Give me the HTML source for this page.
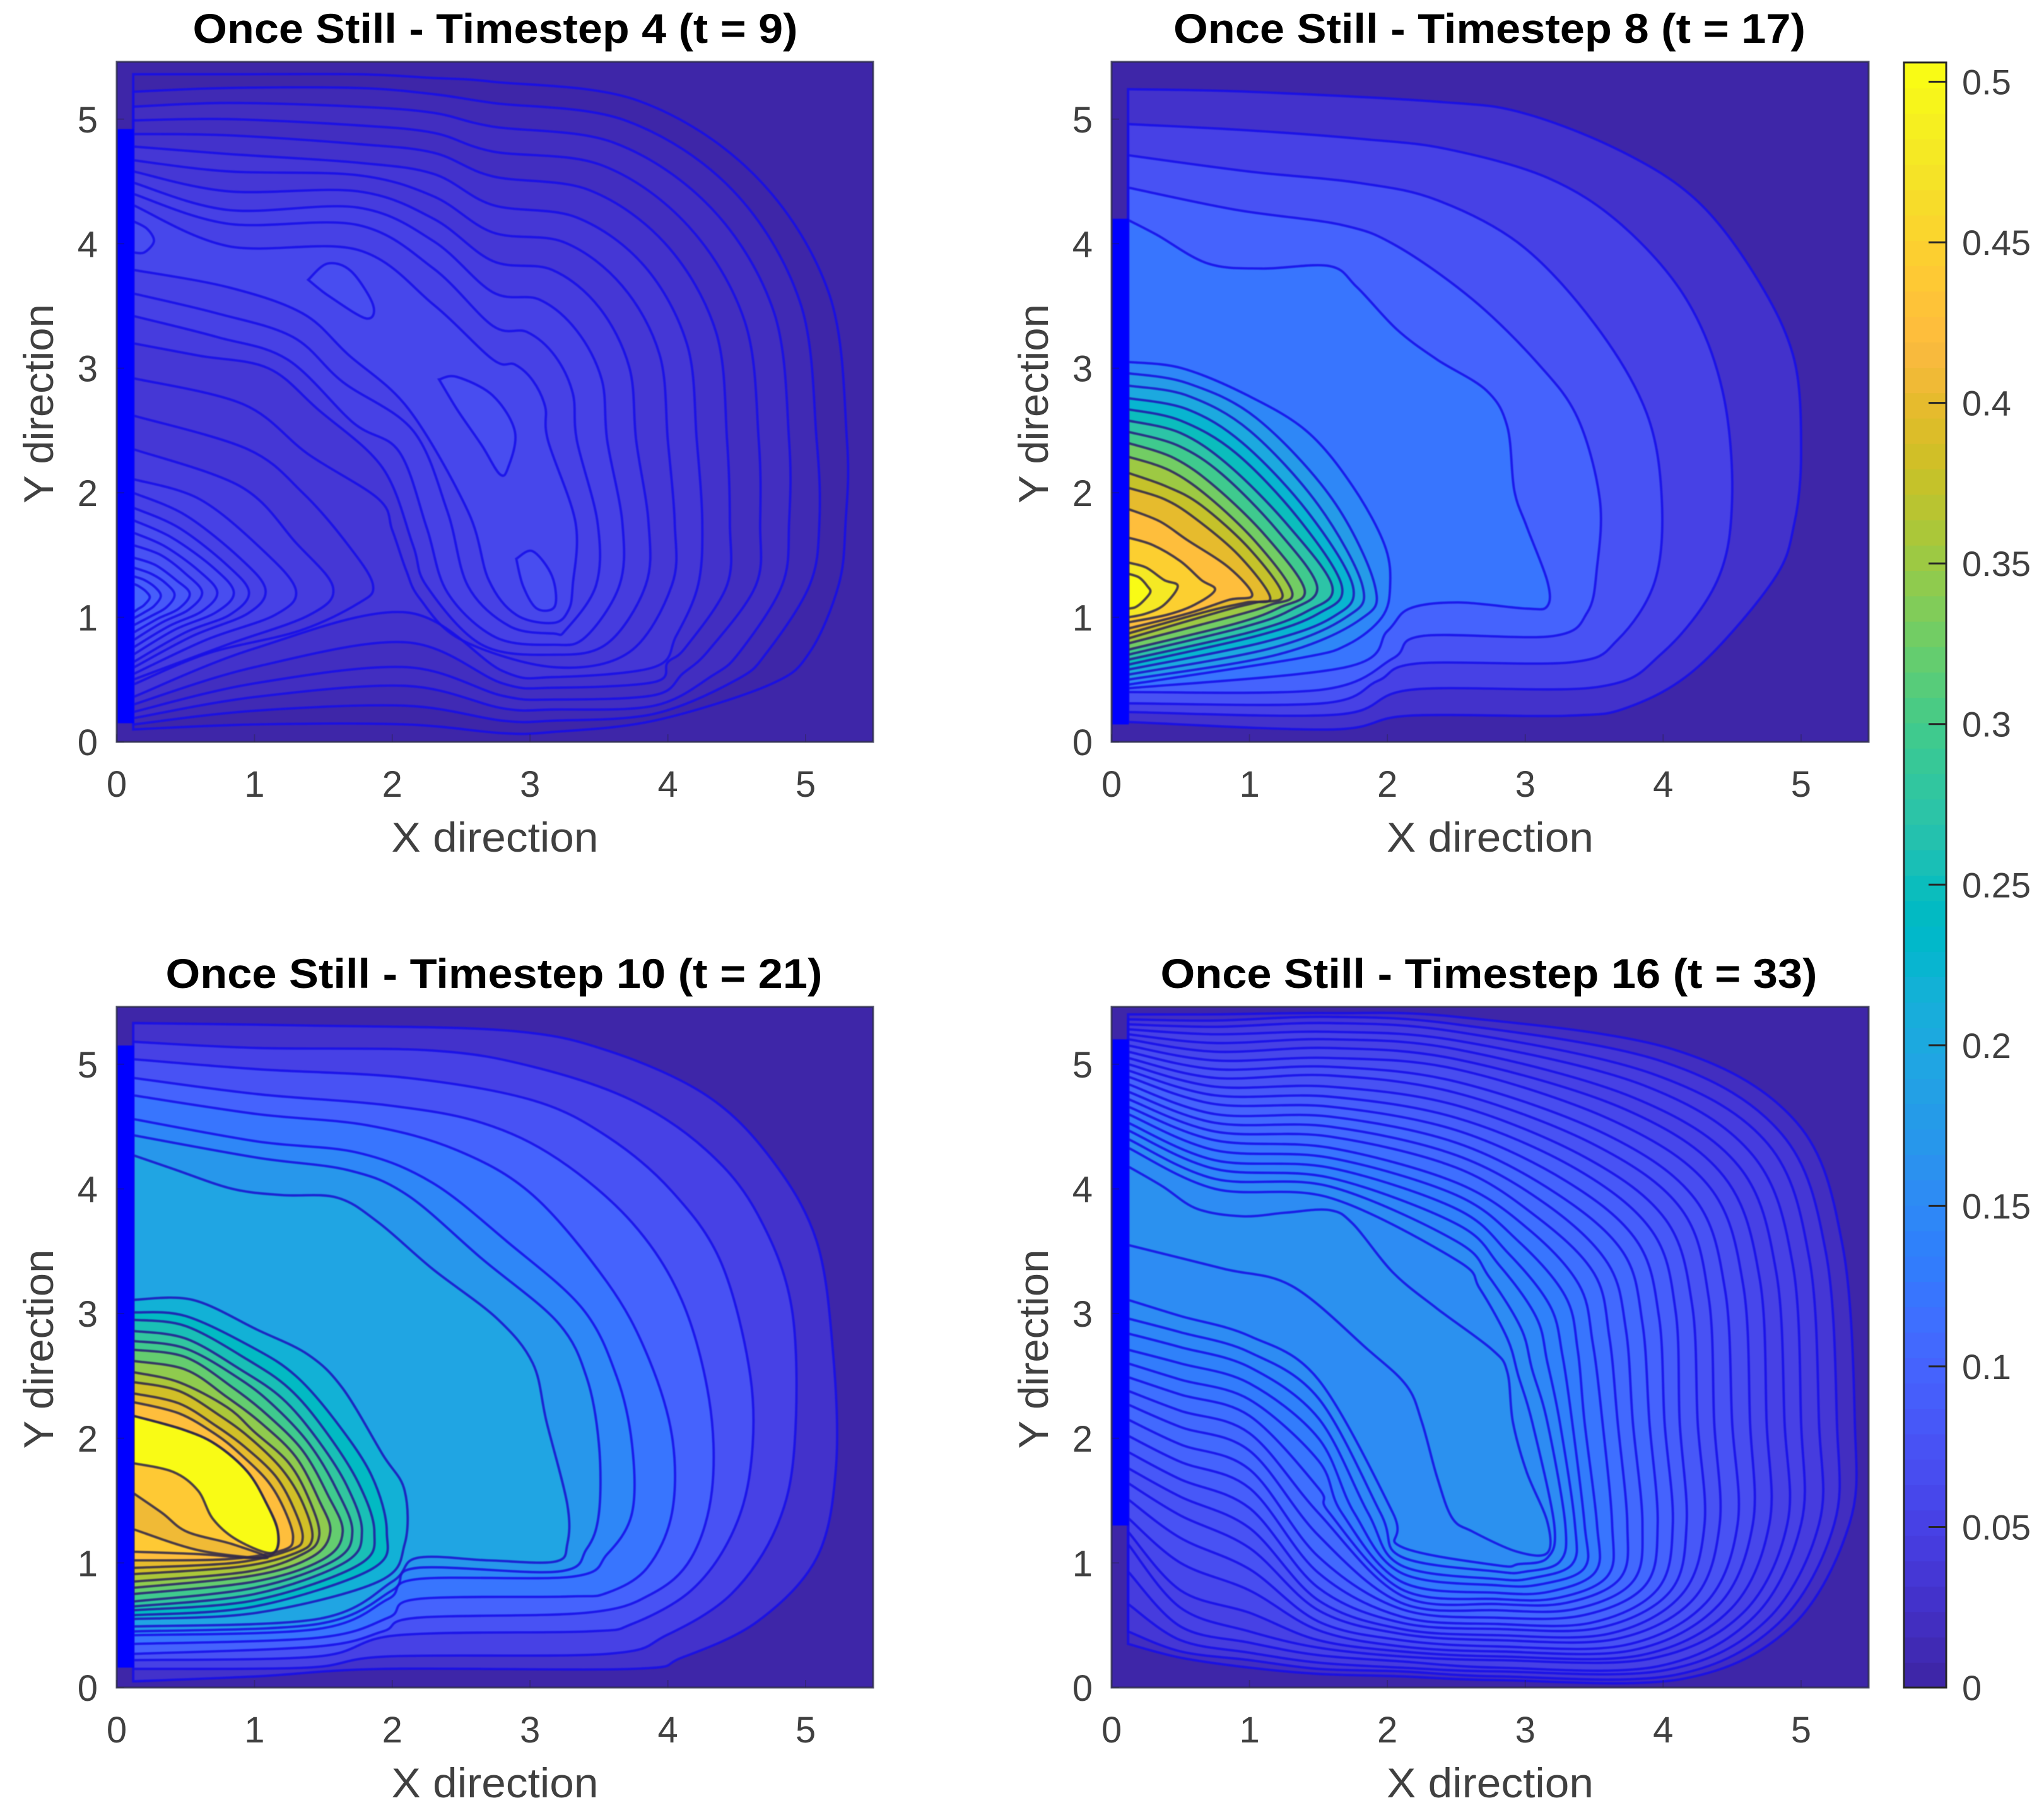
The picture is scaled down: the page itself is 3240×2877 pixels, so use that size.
<!DOCTYPE html>
<html lang="en">
<head>
<meta charset="utf-8">
<title>Once Still contour panels</title>
<style>
html,body{margin:0;padding:0;background:#fff;}
svg{display:block;}
text{font-family:"Liberation Sans",sans-serif;}
</style>
</head>
<body>
<svg id="chart" xmlns="http://www.w3.org/2000/svg" width="3240" height="2877" viewBox="0 0 3240 2877">
<rect x="0" y="0" width="3240" height="2877" fill="#ffffff"/>
<defs id="defs"></defs>
</svg>
<script>
const _ = null;
const xTicks = [0,1,2,3,4,5];
const yTicks = [0,1,2,3,4,5];
const xLimit = 5.49;
const yLimit = 5.46;
const colorbarMax = 0.506;
const colorbarTicks = [0,0.05,0.1,0.15,0.2,0.25,0.3,0.35,0.4,0.45,0.5];
const colorbarLabels = ["0","0.05","0.1","0.15","0.2","0.25","0.3","0.35","0.4","0.45","0.5"];
const panelTitles = ["Once Still - Timestep 4 (t = 9)","Once Still - Timestep 8 (t = 17)","Once Still - Timestep 10 (t = 21)","Once Still - Timestep 16 (t = 33)"];
const steepEdgeRanges = [[0.15,4.92],[0.14,4.2],[0.16,5.15],[1.3,5.2]];

/* ---------- Panel 1: contour stations, one value per contour ---------- */
const p1FamilyLevels = [.006,.011,.017,.022,.028,.033,.039,.044,.05,.055,.061];
const p1Stations = [
 [.12,[5.36,5.22,5.1,4.99,4.88,4.78,4.67,4.58,4.49,4.4,4.31]],
 [.81,[5.36,5.25,5.13,5.0,4.87,4.72,4.58,4.42,4.27,4.16,3.98]],
 [1.75,[5.36,5.25,5.1,4.95,4.8,4.65,4.55,4.42,4.29,4.15,3.95]],
 [2.3,[5.33,5.2,5.05,4.89,4.73,4.56,4.38,4.2,4.02,3.8,3.51]],
 [2.73,[5.3,5.13,4.94,4.74,4.54,4.31,4.09,3.86,3.61,3.34,3.07]],
 [[3.78,3.69,3.61,3.52,3.43,3.34,3.25,3.16,3.07,2.98,2.89],[5.15,4.99,4.81,4.63,4.43,4.21,4.01,3.79,3.55,3.29,3.03]],
 [[4.63,4.47,4.32,4.15,3.99,3.83,3.67,3.5,3.34,3.18,3.02],[4.55,4.43,4.28,4.14,3.99,3.82,3.66,3.49,3.3,3.1,2.9]],
 [[5.17,4.96,4.77,4.56,4.35,4.14,3.94,3.72,3.52,3.31,3.11],[3.6,3.53,3.45,3.37,3.29,3.19,3.11,3.01,2.91,2.8,2.69]],
 [[5.3,5.08,4.88,4.66,4.43,4.21,4.0,3.77,3.56,3.34,3.13],2.42],
 [[5.29,5.1,4.88,4.67,4.45,4.25,4.05,3.86,3.67,3.49,3.33],1.76],
 [[5.24,5.03,4.83,4.64,4.43,4.22,4.03,3.84,3.65,3.48,3.31],1.26],
 [[5.03,4.72,4.52,4.3,4.13,4.06,3.72,3.56,3.4,3.26,3.28],[.72,.72,.72,.74,.76,.85,.72,.79,.84,.9,1.06]],
 [[4.74,4.5,4.32,4.11,4.0,_,_,_,_,_,_],[.46,.5,.53,.55,.64,_,_,_,_,_,_]],
 [3.9,[.17,.225,.29,.375,.48,.6,_,_,_,_,_]],
 [3.17,[.08,.17,.26,.34,.435,.52,.6,.7,.78,.87,.955]],
 [2.8,[.07,.17,.27,.37,.47,.57,_,_,_,_,_]],
 [2.1,[.14,.29,.45,.6,.8,1.04,_,_,_,_,_]],
 [1,[.14,.25,.36,.47,.6,.75,_,_,_,_,_]],
 [[_,_,_,_,_,_,2.5,2.65,2.75,2.85,2.9],[_,_,_,_,_,_,.82,.78,.84,.93,1.02]],
 [[_,_,_,_,_,_,2.2,2.25,2.4,2.55,2.7],[_,_,_,_,_,_,1.15,1.25,1.2,1.25,1.3]],
 [[_,_,_,_,_,_,2.1,2.15,2.25,2.4,2.55],[_,_,_,_,_,_,1.38,1.58,1.72,1.85,1.85]],
 [[_,_,_,_,_,_,2.0,1.93,2.05,2.15,2.12],[_,_,_,_,_,_,1.7,2.2,2.33,2.5,2.67]],
 [[_,_,_,_,_,_,1.9,1.46,1.72,1.64,1.68],[_,_,_,_,_,_,1.95,2.67,2.56,2.89,3.11]],
 [[_,_,_,_,_,_,1.39,1.1,1.24,1.28,1.35],[_,_,_,_,_,_,2.31,3.0,3.07,3.25,3.44]],
 [[_,_,_,_,_,_,.92,.6,.73,.73,.81],[_,_,_,_,_,_,2.71,3.1,3.25,3.44,3.65]],
 [.12,[.10,.14,.19,.24,.3,.36,2.92,3.2,3.42,3.6,3.79]]
];
const p1PeakLoops = [
 [.039,.12,2.62,.95,2.35,1.35,2.0,1.68,1.58,1.86,1.26,1.75,1.11,1.32,.89,.66,.71,.12,.46],
 [.044,.12,2.35,.9,2.05,1.3,1.6,1.57,1.24,1.4,1.02,.8,.78,.12,.5],
 [.05,.12,2.11,.6,1.95,1.05,1.55,1.3,1.22,1.15,1.02,.65,.82,.12,.544],
 [.055,.12,2.0,.5,1.82,.9,1.47,1.08,1.22,.95,1.03,.55,.85,.12,.595],
 [.061,.12,1.88,.45,1.72,.8,1.42,.96,1.2,.82,1.02,.5,.88,.12,.64],
 [.066,.12,1.78,.4,1.64,.7,1.4,.85,1.2,.72,1.04,.42,.9,.12,.7],
 [.071,.12,1.68,.35,1.57,.6,1.37,.73,1.2,.62,1.05,.38,.93,.12,.757],
 [.076,.12,1.58,.32,1.5,.5,1.35,.62,1.2,.52,1.06,.33,.96,.12,.816],
 [.081,.12,1.48,.28,1.42,.43,1.3,.53,1.19,.45,1.07,.3,.99,.12,.876],
 [.086,.12,1.4,.25,1.35,.36,1.27,.42,1.18,.36,1.08,.25,1.01,.12,.935],
 [.091,.12,1.33,.2,1.3,.28,1.24,.32,1.17,.27,1.09,.2,1.04,.12,.99],
 [.096,.12,1.27,.16,1.25,.21,1.21,.24,1.16,.2,1.1,.16,1.07,.12,1.04]
];
const p1Islands = [
 [.067,.12,4.18,.22,4.12,.27,4.02,.2,3.93,.12,3.93],
 [.067,1.39,3.71,1.53,3.84,1.7,3.78,1.86,3.51,1.81,3.4,1.54,3.58,1.39,3.71],
 [.067,2.34,2.91,2.47,2.93,2.73,2.78,2.89,2.49,2.84,2.2,2.78,2.15,2.65,2.38,2.47,2.67,2.34,2.91],
 [.067,2.9,1.47,3.02,1.53,3.16,1.33,3.18,1.09,3.05,1.07,2.95,1.25,2.9,1.47]
];

/* ---------- Panel 2: level, then x,y pairs ---------- */
const p2Loops = [
 [.025,.12,5.24,.99,5.22,2.36,5.14,2.98,5.05,3.7,4.74,4.25,4.34,4.68,3.72,4.95,3.07,5.0,2.31,4.95,1.75,4.8,1.3,4.25,.6,3.75,.28,3.3,.21,2.15,.21,1.6,.1,.12,.16],
 [.05,.12,4.96,.99,4.91,1.82,4.84,2.43,4.76,3.16,4.53,3.7,4.15,4.17,3.55,4.43,2.82,4.5,1.95,4.39,1.29,3.99,.71,3.52,.44,2.18,.42,1.64,.22,.12,.24],
 [.075,.12,4.71,.99,4.58,1.78,4.49,2.36,4.35,2.98,3.98,3.52,3.33,3.88,2.64,3.99,1.95,3.94,1.29,3.67,.82,3.34,.64,2.22,.63,1.93,.49,1.53,.31,.12,.31],
 [.1,.12,4.45,.91,4.27,1.67,4.15,2.07,3.98,2.62,3.55,3.09,3.04,3.38,2.6,3.54,1.95,3.52,1.4,3.45,1.04,3.2,.85,2.25,.85,2.04,.67,1.53,.42,.12,.4],
 [.125,.12,4.19,.33,4.07,.7,3.84,1.09,3.8,1.58,3.82,1.78,3.65,2.07,3.31,2.36,3.07,2.72,2.82,2.87,2.53,2.92,2.02,3.01,1.73,3.16,1.29,3.16,1.09,3.01,1.07,2.51,1.12,2.16,1.07,2.0,.89,1.7,.6,.12,.43],
 [.15,.12,3.05,.51,3.0,.99,2.78,1.42,2.49,1.75,2.05,1.98,1.58,2.02,1.25,1.96,1.0,1.71,.78,1.35,.67,.12,.46],
 [.175,.12,2.96,.55,2.88,1.05,2.6,1.6,1.95,1.91,1.25,1.8,.98,1.2,.7,.12,.5],
 [.2,.12,2.86,.55,2.78,1.0,2.5,1.5,1.9,1.82,1.25,1.7,1.0,1.15,.75,.12,.54],
 [.225,.12,2.76,.55,2.67,.95,2.4,1.42,1.85,1.75,1.25,1.6,1.0,1.1,.8,.12,.58],
 [.25,.12,2.67,.5,2.58,.9,2.32,1.35,1.8,1.67,1.25,1.5,1.03,1.05,.85,.12,.62],
 [.275,.12,2.58,.5,2.48,.85,2.22,1.27,1.75,1.6,1.25,1.42,1.05,1.0,.88,.12,.66],
 [.3,.12,2.49,.48,2.38,.8,2.15,1.2,1.7,1.49,1.25,1.3,1.06,.95,.92,.12,.7],
 [.325,.12,2.4,.45,2.28,.75,2.05,1.12,1.65,1.4,1.22,1.22,1.08,.9,.95,.12,.74],
 [.35,.12,2.29,.42,2.18,.7,1.97,1.05,1.6,1.31,1.2,1.15,1.1,.85,1.0,.12,.79],
 [.375,.12,2.16,.4,2.05,.65,1.9,1.0,1.55,1.24,1.18,1.05,1.12,.8,1.05,.12,.83],
 [.4,.12,2.04,.38,1.95,.6,1.8,.92,1.5,1.15,1.16,.98,1.12,.7,1.05,.12,.87],
 [.425,.12,1.87,.35,1.77,.55,1.62,.85,1.4,1.02,1.18,.85,1.14,.55,1.03,.12,.91],
 [.45,.12,1.64,.3,1.58,.5,1.45,.65,1.3,.75,1.22,.6,1.1,.4,1.02,.12,.96],
 [.475,.12,1.44,.25,1.4,.38,1.3,.48,1.25,.38,1.1,.25,1.03,.12,1.0],
 [.5,.12,1.35,.2,1.32,.26,1.25,.28,1.2,.22,1.12,.17,1.08,.12,1.07]
];

/* ---------- Panel 3: level, then x,y pairs ---------- */
const p3Loops = [
 [.025,.12,5.33,1.39,5.31,2.83,5.27,3.56,5.11,4.28,4.75,4.75,4.24,5.08,3.58,5.2,2.67,5.22,1.76,5.08,1.04,4.65,.53,4.1,.24,3.74,.15,1.93,.15,1.02,.09,.12,.05],
 [.05,.12,5.18,1.02,5.13,2.29,5.11,3.02,4.98,3.74,4.71,4.28,4.31,4.65,3.8,4.9,3.04,4.92,1.95,4.79,1.29,4.46,.75,3.99,.42,3.56,.27,1.97,.25,1.38,.16,.12,.15],
 [.074,.12,5.04,1.02,4.96,2.11,4.89,3.02,4.71,3.56,4.42,4.03,3.98,4.39,3.4,4.6,2.49,4.6,1.76,4.46,1.22,4.17,.78,3.74,.51,3.41,.45,2.04,.42,1.46,.25,.12,.22],
 [.098,.12,4.89,1.02,4.76,1.97,4.67,2.65,4.53,3.2,4.24,3.74,3.73,4.1,3.11,4.3,2.31,4.32,1.58,4.17,1.04,3.88,.75,3.41,.6,2.18,.56,1.93,.45,1.46,.33,.12,.27],
 [.123,.12,4.75,1.02,4.6,1.82,4.51,2.47,4.31,3.02,3.95,3.56,3.25,3.85,2.67,4.03,2.02,4.03,1.4,3.85,.96,3.56,.76,3.27,.73,2.18,.71,1.97,.56,1.46,.4,.12,.35],
 [.147,.12,4.56,1.02,4.38,1.75,4.29,2.29,4.05,2.83,3.58,3.38,3.04,3.63,2.49,3.74,1.95,3.74,1.4,3.56,1.07,3.31,.89,2.18,.87,1.97,.71,1.46,.47,.12,.42],
 [.172,.12,4.43,1.02,4.25,1.68,4.15,2.11,3.95,2.65,3.44,3.2,2.93,3.41,2.49,3.5,1.95,3.5,1.4,3.41,1.11,3.2,.93,2.18,.96,2.0,.78,1.46,.51,.12,.45],
 [.196,.12,4.27,.41,4.16,.84,4.0,1.2,3.95,1.6,3.93,1.9,3.73,2.29,3.36,2.76,2.96,3.02,2.6,3.12,2.13,3.27,1.47,3.27,1.15,3.18,1.01,2.7,1.02,2.18,1.04,2.0,.85,1.46,.55,.12,.49],
 [.22,.12,3.11,.55,3.11,1.02,2.87,1.39,2.67,1.64,2.4,1.93,1.87,2.09,1.58,2.09,1.15,1.9,.85,1.02,.6,.12,.55],
 [.24,.12,3.01,.5,2.98,1.0,2.72,1.3,2.5,1.58,2.15,1.85,1.7,1.96,1.25,1.85,.95,1.0,.65,.12,.58],
 [.26,.12,2.95,.5,2.9,.95,2.63,1.25,2.4,1.5,2.08,1.75,1.65,1.87,1.25,1.75,.98,1.0,.7,.12,.62],
 [.28,.12,2.86,.5,2.8,.9,2.55,1.2,2.32,1.45,2.0,1.67,1.62,1.78,1.25,1.65,1.0,1.0,.75,.12,.65],
 [.3,.12,2.78,.5,2.72,.9,2.47,1.15,2.25,1.4,1.95,1.6,1.58,1.71,1.25,1.58,1.02,1.0,.8,.12,.69],
 [.32,.12,2.71,.5,2.65,.85,2.4,1.1,2.18,1.35,1.9,1.53,1.55,1.64,1.25,1.5,1.03,1.0,.85,.12,.75],
 [.34,.12,2.62,.5,2.55,.8,2.33,1.05,2.12,1.3,1.85,1.47,1.5,1.55,1.25,1.42,1.05,1.0,.9,.12,.8],
 [.36,.12,2.53,.45,2.45,.8,2.25,1.0,2.05,1.25,1.8,1.4,1.5,1.47,1.22,1.35,1.07,.95,.93,.12,.85],
 [.38,.12,2.45,.45,2.38,.75,2.18,.97,2.0,1.2,1.75,1.35,1.48,1.42,1.2,1.3,1.08,.9,.97,.12,.91],
 [.4,.12,2.36,.45,2.28,.72,2.1,.93,1.93,1.15,1.7,1.28,1.45,1.35,1.2,1.25,1.1,.85,1.0,.12,.96],
 [.42,.12,2.29,.45,2.2,.72,2.03,.9,1.87,1.1,1.65,1.22,1.42,1.28,1.2,1.2,1.1,.8,1.03,.12,1.02],
 [.44,.12,2.18,.48,2.07,.72,1.95,.95,1.73,1.09,1.47,1.17,1.25,1.15,1.09,1.0,1.04,.6,1.07,.12,1.09],
 [.5,.12,2.18,.48,2.07,.72,1.95,.95,1.73,1.09,1.47,1.17,1.25,1.13,1.08,.88,1.18,.7,1.35,.59,1.58,.41,1.73,.12,1.8],
 [.41,.12,1.56,.33,1.4,.51,1.25,.84,1.15,1.09,1.04,.6,1.1,.12,1.27]
];

/* ---------- Panel 4: contour stations, one value per contour ---------- */
const p4FamilyLevels = [.158,.151,.144,.137,.13,.123,.117,.11,.103,.097,.09,.084,.078,.072,.066,.06,.054,.048,.041,.032,.022];
const p4Stations = [
 [.12,[4.33,4.4,4.47,4.53,4.6,4.66,4.72,4.78,4.84,4.9,4.95,5.0,5.05,5.1,5.15,5.2,5.24,5.28,5.32,5.36,5.4]],
 [.75,[4.0,4.08,4.16,4.23,4.31,4.39,4.46,4.53,4.6,4.68,4.75,4.82,4.89,4.96,5.03,5.1,5.17,5.24,5.3,5.35,5.4]],
 [1.58,[3.93,4.02,4.09,4.17,4.25,4.33,4.42,4.5,4.58,4.66,4.74,4.82,4.91,4.98,5.05,5.13,5.2,5.26,5.33,5.38,5.41]],
 [2.5,[3.43,3.58,3.72,3.84,3.95,4.05,4.17,4.27,4.37,4.47,4.57,4.67,4.77,4.86,4.96,5.04,5.12,5.19,5.26,5.32,5.38]],
 [[2.67,2.74,2.81,2.88,2.95,3.02,3.09,3.16,3.23,3.3,3.37,3.44,3.51,3.58,3.65,3.72,3.79,3.86,3.93,4.0,4.07],[3.2,3.29,3.39,3.48,3.58,3.68,3.77,3.87,3.96,4.06,4.16,4.25,4.35,4.44,4.54,4.64,4.73,4.83,4.92,5.02,5.12]],
 [[2.87,2.97,3.08,3.18,3.29,3.39,3.5,3.6,3.71,3.81,3.92,4.02,4.13,4.23,4.34,4.44,4.55,4.65,4.76,4.86,4.97],[2.8,2.88,2.97,3.06,3.14,3.23,3.32,3.4,3.49,3.58,3.66,3.75,3.84,3.92,4.01,4.1,4.18,4.27,4.36,4.44,4.53]],
 [[2.95,3.05,3.16,3.27,3.38,3.49,3.61,3.73,3.85,3.97,4.09,4.21,4.33,4.45,4.58,4.7,4.82,4.94,5.06,5.18,5.3],[2.5,2.55,2.61,2.66,2.71,2.76,2.81,2.87,2.92,2.97,3.02,3.07,3.13,3.18,3.23,3.28,3.33,3.39,3.44,3.49,3.55]],
 [[3.05,3.16,3.25,3.34,3.43,3.56,3.67,3.78,3.9,4.01,4.12,4.25,4.37,4.5,4.63,4.75,4.88,5.0,5.13,5.26,5.39],2.13],
 [[3.21,3.29,3.36,3.43,3.52,3.63,3.74,3.85,3.96,4.07,4.17,4.3,4.41,4.54,4.65,4.77,4.9,5.0,5.13,5.24,5.35],1.31],
 [[3.16,3.25,3.34,3.43,3.51,3.6,3.69,3.78,3.87,3.96,4.05,4.13,4.22,4.31,4.4,4.49,4.58,4.66,4.75,4.84,4.93],[1.04,1.01,.99,.96,.93,.9,.88,.85,.82,.79,.77,.74,.71,.68,.66,.63,.6,.57,.54,.52,.49]],
 [[2.95,3.0,3.06,3.12,3.18,3.24,3.3,3.36,3.42,3.48,3.54,3.6,3.66,3.72,3.78,3.84,3.9,3.96,4.02,4.08,4.14],[.99,.93,.88,.83,.77,.72,.68,.63,.58,.52,.48,.43,.39,.34,.3,.26,.23,.17,.14,.1,.07]],
 [2.8,[.98,.93,.87,.82,.76,.71,.67,.62,.56,.51,.47,.42,.38,.33,.29,.25,.22,.16,.13,.09,.06]],
 [2.1,[1.13,1.05,.98,.92,.85,.79,.74,.68,.63,.57,.52,.47,.43,.38,.33,.29,.25,.21,.16,.13,.09]],
 [[2.04,1.95,1.86,1.76,1.67,1.58,_,_,_,_,_,_,_,_,_,_,_,_,_,_,_],1.4],
 [1.5,[2.47,2.32,2.16,2.0,1.82,1.6,1.4,1.22,1.05,.92,.8,.7,.62,.53,.46,.38,.32,.26,.2,.15,.11]],
 [1,[2.82,2.69,2.57,2.44,2.31,2.18,2.04,1.9,1.75,1.6,1.44,1.28,1.12,.95,.78,.6,.45,.36,.28,.22,.16]],
 [.5,[2.98,2.85,2.73,2.6,2.47,2.35,2.22,2.09,1.95,1.81,1.67,1.53,1.38,1.2,1.0,.78,.64,.49,.38,.29,.24]],
 [.12,[3.11,2.96,2.84,2.71,2.6,2.49,2.38,2.27,2.15,2.02,1.89,1.76,1.64,1.51,1.36,1.25,1.15,.93,.67,.45,.35]]
];
const p4Plateau = [
 [.166,.12,4.18,.37,4.02,.62,3.84,.95,3.78,1.27,3.81,1.58,3.83,1.75,3.72,2.04,3.33,2.36,3.04,2.76,2.71,2.87,2.53,2.91,2.13,3.01,1.73,3.16,1.33,3.16,1.08,2.94,1.09,2.62,1.25,2.47,1.36,2.36,1.69,2.25,2.13,2.14,2.42,1.86,2.71,1.31,3.22,.81,3.36,.12,3.55]
];

/* ---------- Parula colour map ---------- */
const parula = [[.2422,.1504,.6603],[.2504,.165,.7076],[.2578,.1818,.7511],[.2647,.1978,.7952],[.2706,.2147,.8364],[.2751,.2342,.871],[.2783,.2559,.8991],[.2803,.2782,.9221],[.2813,.3006,.9414],[.281,.3228,.9579],[.2795,.3447,.9717],[.276,.3667,.9829],[.2699,.3892,.9906],[.2602,.4123,.9952],[.244,.4358,.9988],[.2206,.4603,.9973],[.1963,.4847,.9892],[.1834,.5074,.9798],[.1786,.5289,.9682],[.1764,.5499,.952],[.1687,.5703,.9359],[.154,.5902,.9218],[.146,.6091,.9079],[.138,.6276,.8973],[.1248,.6459,.8883],[.1113,.6635,.8763],[.0952,.6798,.8598],[.0689,.6948,.8394],[.0297,.7082,.8163],[.0036,.7203,.7917],[.0067,.7312,.766],[.0433,.7411,.7394],[.0964,.75,.712],[.1408,.7584,.6842],[.1717,.767,.6554],[.1938,.7758,.6251],[.2161,.7843,.5923],[.247,.7918,.5567],[.2906,.7973,.5188],[.3406,.8008,.4789],[.3909,.8029,.4354],[.4456,.8024,.3909],[.5044,.7993,.348],[.5616,.7942,.3045],[.6174,.7876,.2612],[.672,.7793,.2227],[.7242,.7698,.191],[.7738,.7598,.1646],[.8203,.7498,.1535],[.8634,.7406,.1596],[.9035,.733,.1774],[.9393,.7288,.21],[.9728,.7298,.2394],[.9956,.7434,.2371],[.997,.7659,.2199],[.9952,.7893,.2028],[.9892,.8136,.1885],[.9786,.8386,.1766],[.9676,.8639,.1643],[.961,.889,.1537],[.9597,.9135,.1423],[.9628,.9373,.1265],[.9691,.9606,.1064],[.9769,.9839,.0805]];

const NS = "http://www.w3.org/2000/svg";
const root = document.getElementById("chart");
const defs = document.getElementById("defs");

function colorFor(level){
  const i = Math.max(0, Math.min(63, Math.floor(level / colorbarMax * 64)));
  const c = parula[i];
  return "rgb(" + Math.round(c[0]*255) + "," + Math.round(c[1]*255) + "," + Math.round(c[2]*255) + ")";
}
function lineColorFor(level){
  const t = Math.max(0, Math.min(1, (level - 0.16) / 0.22));
  const r = Math.round(22 + (48 - 22) * t);
  const g = Math.round(14 + (40 - 14) * t);
  const b = Math.round(232 + (72 - 232) * t);
  return "rgb(" + r + "," + g + "," + b + ")";
}
function make(tag, parent, attrs, text){
  const e = document.createElementNS(NS, tag);
  for (const k in attrs) e.setAttribute(k, attrs[k]);
  if (text !== undefined) e.textContent = text;
  parent.appendChild(e);
  return e;
}
function familyLoops(stations, levels){
  const loops = [];
  levels.forEach(function(level, i){
    const pts = [];
    stations.forEach(function(s){
      const x = Array.isArray(s[0]) ? s[0][i] : s[0];
      const y = Array.isArray(s[1]) ? s[1][i] : s[1];
      if (x !== null && y !== null) pts.push([x, y]);
    });
    loops.push({level: level, pts: pts});
  });
  return loops.sort(function(a, b){ return a.level - b.level; });
}
function flatLoops(rows){
  return rows.map(function(r){
    const pts = [];
    for (let i = 1; i < r.length; i += 2) pts.push([r[i], r[i+1]]);
    return {level: r[0], pts: pts};
  });
}
function splinePath(p){
  let d = "M" + p[0][0].toFixed(1) + " " + p[0][1].toFixed(1);
  for (let i = 0; i < p.length - 1; i++){
    const a = p[Math.max(i-1, 0)], b = p[i], c = p[i+1], e = p[Math.min(i+2, p.length-1)];
    const c1x = b[0] + (c[0]-a[0])/6, c1y = b[1] + (c[1]-a[1])/6;
    const c2x = c[0] - (e[0]-b[0])/6, c2y = c[1] - (e[1]-b[1])/6;
    d += "C" + c1x.toFixed(1) + " " + c1y.toFixed(1) + " " + c2x.toFixed(1) + " " + c2y.toFixed(1) + " " + c[0].toFixed(1) + " " + c[1].toFixed(1);
  }
  return d;
}

const panels = [
 {left:185, right:1384, top:98, bottom:1176, title:panelTitles[0], titleX:785, titleW:959,
  loops: familyLoops(p1Stations, p1FamilyLevels).concat(flatLoops(p1PeakLoops), flatLoops(p1Islands))},
 {left:1762, right:2962, top:98, bottom:1176, title:panelTitles[1], titleX:2361, titleW:1002,
  loops: flatLoops(p2Loops)},
 {left:185, right:1384, top:1596, bottom:2675, title:panelTitles[2], titleX:783, titleW:1041,
  loops: flatLoops(p3Loops)},
 {left:1762, right:2962, top:1596, bottom:2675, title:panelTitles[3], titleX:2360, titleW:1041,
  loops: familyLoops(p4Stations, p4FamilyLevels).concat(flatLoops(p4Plateau))}
];

panels.forEach(function(p, n){
  const X = function(v){ return p.left + v / xLimit * (p.right - p.left); };
  const Y = function(v){ return p.bottom - v / yLimit * (p.bottom - p.top); };
  const axes = make("g", root, {});
  
  

  const clip = make("clipPath", defs, {id: "clip" + n});
  make("rect", clip, {x: p.left, y: p.top, width: p.right - p.left, height: p.bottom - p.top});

  const plot = make("g", axes, {"clip-path": "url(#clip" + n + ")", style: "filter:blur(0.9px)"});
  
  

  const base = make("rect", plot, {x: p.left, y: p.top, width: p.right - p.left, height: p.bottom - p.top, fill: colorFor(0)});
  
  

  p.loops.forEach(function(loop){
    const px = loop.pts.map(function(q){ return [X(q[0]), Y(q[1])]; });
    const d = splinePath(px);
    const fill = make("path", plot, {d: d + "Z", fill: colorFor(loop.level), stroke: "none"});
    
    
    loop.d = d;
  });
  p.loops.forEach(function(loop){
    const line = make("path", plot, {d: loop.d + "Z", fill: "none", stroke: lineColorFor(loop.level), "stroke-width": 3.8, "stroke-opacity": 0.88});
    
    
  });

  const range = steepEdgeRanges[n];
  const edge = make("rect", plot, {x: X(0.006), y: Y(range[1]), width: X(0.125) - X(0.006), height: Y(range[0]) - Y(range[1]), fill: "#0000ff"});
  
  

  xTicks.forEach(function(t){
    const mark = make("line", axes, {x1: X(t), x2: X(t), y1: p.bottom, y2: p.bottom - 12, stroke: "rgba(38,38,38,0.3)", "stroke-width": 2});
    
    
    const label = make("text", axes, {x: X(t), y: p.bottom + 87, "font-size": 58, fill: "#404040", "text-anchor": "middle"}, String(t));
    
    
  });
  yTicks.forEach(function(t){
    const mark = make("line", axes, {x1: p.left, x2: p.left + 12, y1: Y(t), y2: Y(t), stroke: "rgba(38,38,38,0.3)", "stroke-width": 2});
    
    
    const label = make("text", axes, {x: p.left - 30, y: Y(t) + 21, "font-size": 58, fill: "#404040", "text-anchor": "end"}, String(t));
    
    
  });

  const frame = make("rect", axes, {x: p.left, y: p.top, width: p.right - p.left, height: p.bottom - p.top, fill: "none", stroke: "rgba(38,38,70,0.8)", "stroke-width": 3});
  
  

  const title = make("text", axes, {x: p.titleX, y: p.top - 30, "font-size": 66, "font-weight": "bold", fill: "#000000", "text-anchor": "middle", textLength: p.titleW, lengthAdjust: "spacingAndGlyphs"}, p.title);
  
  

  const xTitle = make("text", axes, {x: (p.left + p.right) / 2, y: p.bottom + 174, "font-size": 66, fill: "#404040", "text-anchor": "middle", textLength: 328, lengthAdjust: "spacingAndGlyphs"}, "X direction");
  
  

  const yx = p.left - 101, yy = (p.top + p.bottom) / 2 + 3;
  const yTitle = make("text", axes, {x: yx, y: yy, "font-size": 66, fill: "#404040", "text-anchor": "middle", transform: "rotate(-90 " + yx + " " + yy + ")", textLength: 316, lengthAdjust: "spacingAndGlyphs"}, "Y direction");
  
  
});

/* ---------- Colour bar ---------- */
const barLeft = 3018, barRight = 3085, barTop = 99, barBottom = 2675;
const barY = function(v){ return barBottom - v / colorbarMax * (barBottom - barTop); };
const bar = make("g", root, {});


parula.forEach(function(c, i){
  const v0 = i / 64 * colorbarMax, v1 = (i + 1) / 64 * colorbarMax;
  const stripe = make("rect", bar, {x: barLeft, y: barY(v1), width: barRight - barLeft, height: barY(v0) - barY(v1) + 1, fill: colorFor(v0 + 1e-6)});
  
  
});
const barFrame = make("rect", bar, {x: barLeft, y: barTop, width: barRight - barLeft, height: barBottom - barTop, fill: "none", stroke: "#262626", "stroke-width": 3});


colorbarTicks.forEach(function(v, i){
  const mark = make("line", bar, {x1: barRight - 28, x2: barRight, y1: barY(v), y2: barY(v), stroke: "#262626", "stroke-width": 3});
  
  
  const label = make("text", bar, {x: 3110, y: barY(v) + 20, "font-size": 56, fill: "#404040"}, colorbarLabels[i]);
  
  
});
</script>
</body>
</html>
